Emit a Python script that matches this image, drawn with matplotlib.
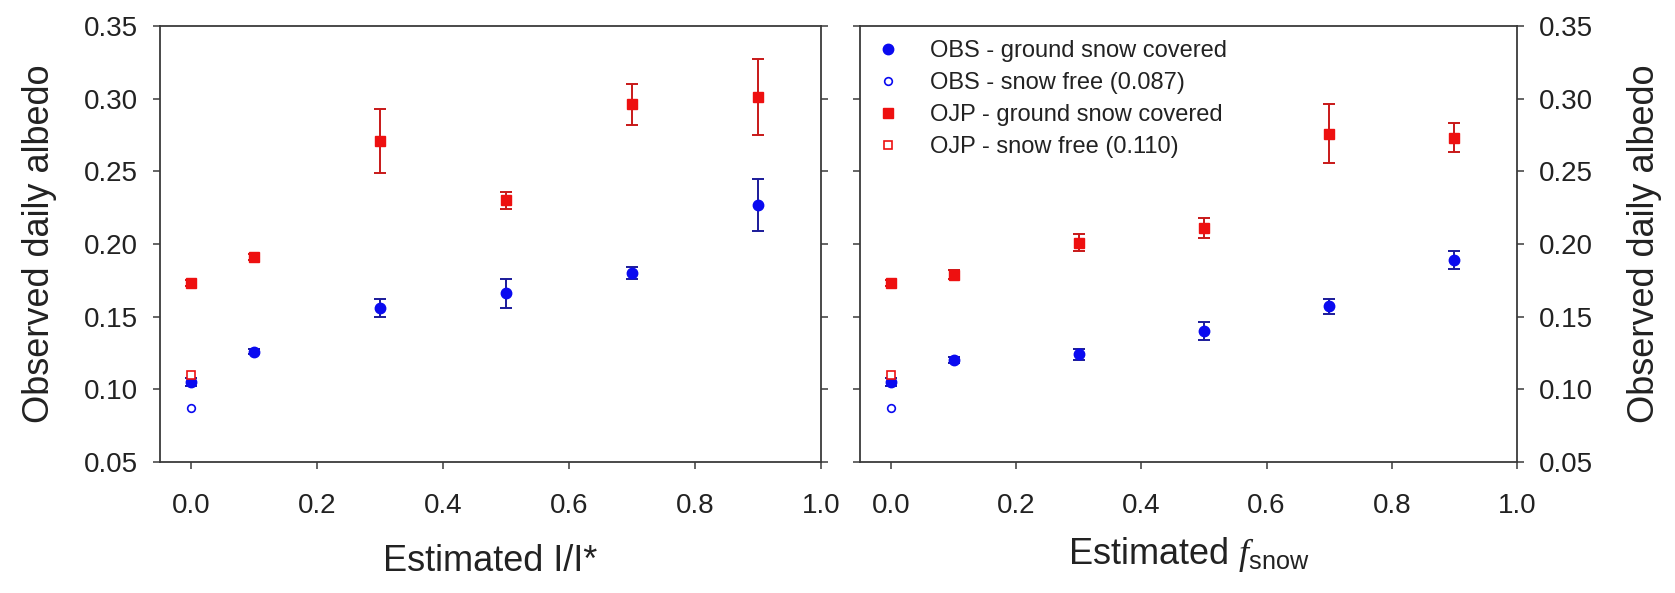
import numpy as np
import matplotlib
matplotlib.use('Agg')
import matplotlib.pyplot as plt
from matplotlib.lines import Line2D
from matplotlib.ticker import FormatStrFormatter

plt.rcParams['font.family'] = ['Liberation Sans', 'DejaVu Sans']
plt.rcParams['mathtext.fontset'] = 'custom'
plt.rcParams['mathtext.rm'] = 'Liberation Sans'
plt.rcParams['mathtext.it'] = 'Liberation Serif:italic'

# estimated I/I* or f_snow classes
x = [0.0, 0.1, 0.3, 0.5, 0.7, 0.9]

# left panel (I/I*)
obs_left = [0.105, 0.126, 0.156, 0.166, 0.180, 0.227]
obs_left_err = [0.003, 0.002, 0.006, 0.010, 0.004, 0.018]
ojp_left = [0.173, 0.191, 0.271, 0.230, 0.296, 0.301]
ojp_left_err = [0.002, 0.002, 0.022, 0.006, 0.014, 0.026]

# right panel (f_snow)
obs_right = [0.105, 0.120, 0.124, 0.140, 0.157, 0.189]
obs_right_err = [0.003, 0.002, 0.004, 0.006, 0.005, 0.006]
ojp_right = [0.173, 0.179, 0.201, 0.211, 0.276, 0.273]
ojp_right_err = [0.002, 0.003, 0.006, 0.007, 0.020, 0.010]

# snow free reference values
obs_free = 0.087
ojp_free = 0.110

legend_labels = ['OBS - ground snow covered', 'OBS - snow free (0.087)',
                 'OJP - ground snow covered', 'OJP - snow free (0.110)']

blue = '#0a0af0'
red = '#ee1010'
blue_err = '#1a1a9a'
red_err = '#c81818'
spine_col = '#3a3a3a'
txt = '#222222'

fig = plt.figure(figsize=(16.75, 5.93), dpi=100)
ax1 = fig.add_axes([0.0955, 0.2209, 0.3946, 0.7353])
ax2 = fig.add_axes([0.5134, 0.2209, 0.3922, 0.7353])


def draw(ax, obs, obs_err, ojp, ojp_err):
    ax.errorbar(x, obs, yerr=obs_err, fmt='o', color=blue, ms=7.5,
                ecolor=blue_err, elinewidth=1.4, capsize=4.5, capthick=1.4,
                zorder=3)
    ax.plot([0.0], [obs_free], 'o', mfc='white', mec=blue, mew=1.2,
            ms=5.5, zorder=3)
    ax.errorbar(x, ojp, yerr=ojp_err, fmt='s', color=red, ms=7.5,
                ecolor=red_err, elinewidth=1.4, capsize=4.5, capthick=1.4,
                zorder=3)
    ax.plot([0.0], [ojp_free], 's', mfc='white', mec=red, mew=1.2,
            ms=6, zorder=4)
    ax.set_xlim(-0.05, 1.0)
    ax.set_ylim(0.05, 0.35)
    ax.set_xticks(np.arange(0, 1.01, 0.2))
    ax.set_yticks(np.arange(0.05, 0.351, 0.05))
    ax.xaxis.set_major_formatter(FormatStrFormatter('%.1f'))
    ax.yaxis.set_major_formatter(FormatStrFormatter('%.2f'))
    for s in ax.spines.values():
        s.set_color(spine_col)
        s.set_linewidth(1.3)
    ax.tick_params(axis='both', direction='out', length=5, width=1.1,
                   color=spine_col, labelsize=20, labelcolor=txt)
    ax.tick_params(axis='x', pad=17)
    ax.tick_params(axis='y', pad=11, left=True, right=True)


draw(ax1, obs_left, obs_left_err, ojp_left, ojp_left_err)
draw(ax2, obs_right, obs_right_err, ojp_right, ojp_right_err)

ax1.tick_params(axis='y', labelleft=True, labelright=False)
ax2.tick_params(axis='y', labelleft=False, labelright=True)

ax1.set_ylabel('Observed daily albedo', fontsize=26, color=txt, labelpad=19)
ax2.yaxis.set_label_position('right')
ax2.set_ylabel('Observed daily albedo', fontsize=26, color=txt, labelpad=24)

ax1.set_xlabel('Estimated I/I*', fontsize=26, color=txt, labelpad=18)
ax2.set_xlabel(r'Estimated $\mathit{f}_{\mathrm{snow}}$', fontsize=26,
               color=txt, labelpad=12)

# legend shows markers only, no error bars
handles = [
    Line2D([], [], ls='none', marker='o', color=blue, ms=7.5),
    Line2D([], [], ls='none', marker='o', mfc='white', mec=blue, mew=1.2, ms=5.5),
    Line2D([], [], ls='none', marker='s', color=red, ms=7.5),
    Line2D([], [], ls='none', marker='s', mfc='white', mec=red, mew=1.2, ms=6),
]
ax2.legend(handles, legend_labels, loc='upper left', frameon=False,
           fontsize=17, borderpad=0, borderaxespad=0.6, handlelength=1.2,
           handletextpad=1.15, labelspacing=0.42, labelcolor=txt)

plt.savefig('out.png', dpi=100)
